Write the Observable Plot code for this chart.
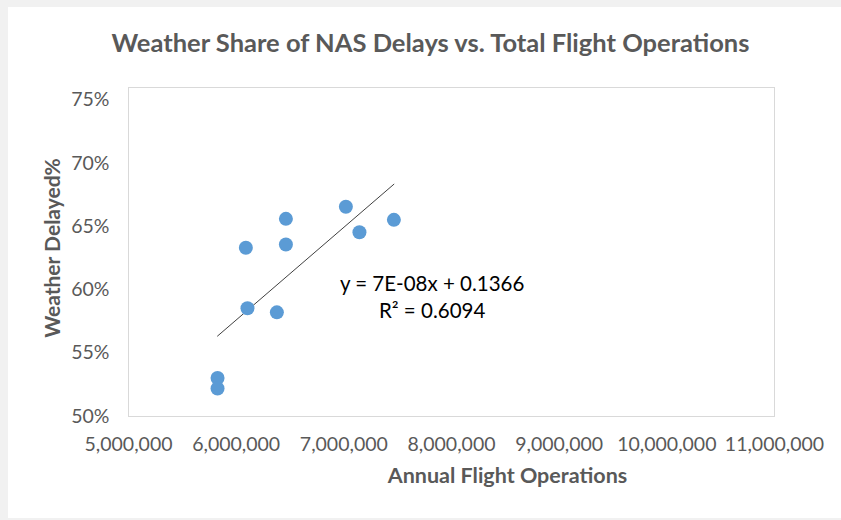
<!DOCTYPE html>
<html>
<head>
<meta charset="utf-8">
<script src="https://cdn.jsdelivr.net/npm/d3@7"></script>
<script src="https://cdn.jsdelivr.net/npm/@observablehq/plot@0.6"></script>
<style>
  html, body { margin: 0; padding: 0; background: #f1f1f1; }
  #wrap { position: relative; width: 841px; height: 520px; overflow: hidden; }
  #card { position: absolute; left: 8px; top: 7px; width: 833px; height: 511px; background: #ffffff; }
  #title { position: absolute; left: 0; top: 27px; width: 861px; text-align: center;
           font-family: Lato, "Open Sans", sans-serif; font-weight: bold; font-size: 25.5px; color: #595959; }
  #chart { position: absolute; left: 0; top: 0; }
</style>
</head>
<body>
<div id="wrap">
  <div id="card"></div>
  <div id="title">Weather Share of NAS Delays vs. Total Flight Operations</div>
  <div id="chart"></div>
</div>
<script>
// Annual flight operations (x) and weather share of NAS delays (y)
const operations = [6090000, 6462000, 6462000, 7019000, 7145000, 7465000, 6105000, 6378000, 5827000, 5827000];
const weatherShare = [0.6333, 0.6562, 0.6359, 0.6658, 0.6456, 0.6554, 0.5856, 0.5823, 0.5304, 0.5221];

const xTicks = [5000000, 6000000, 7000000, 8000000, 9000000, 10000000, 11000000];
const yTicks = [0.50, 0.55, 0.60, 0.65, 0.70, 0.75];

const trendLabel = ["y = 7E-08x + 0.1366\nR² = 0.6094"];
const trendLabelAt = [7820000, 0.5955];

const xTitle = "Annual Flight Operations";
const yTitle = "Weather Delayed%";

const data = operations.map((x, i) => ({x, y: weatherShare[i]}));
const font = "Lato, 'Open Sans', sans-serif";

const chart = Plot.plot({
  width: 841,
  height: 520,
  marginLeft: 128,
  marginRight: 67,
  marginTop: 87,
  marginBottom: 104,
  style: {fontFamily: font, background: "transparent", overflow: "visible"},
  x: {domain: [5000000, 11000000]},
  y: {domain: [0.5, 0.76]},
  marks: [
    Plot.frame({stroke: "#d9d9d9"}),
    Plot.axisX({ticks: xTicks, tickFormat: d3.format(","), tickSize: 0, tickPadding: 21,
                fontSize: 19.5, fill: "#595959", label: null}),
    Plot.axisY({ticks: yTicks, tickFormat: d3.format(".0%"), tickSize: 0, tickPadding: 19,
                fontSize: 19.5, fill: "#595959", label: null}),
    Plot.linearRegressionY(data, {x: "x", y: "y", ci: 0, stroke: "#404040", strokeWidth: 1}),
    Plot.dot(data, {x: "x", y: "y", r: 7, fill: "#5b9bd5", stroke: "none"}),
    Plot.text(trendLabel, {x: () => trendLabelAt[0], y: () => trendLabelAt[1], text: d => d,
                           fontSize: 20.5, fill: "#000000", lineHeight: 1.32, textAnchor: "middle"}),
    Plot.text([xTitle], {frameAnchor: "bottom", textAnchor: "middle", dx: 56, dy: 66, text: d => d,
                         fontSize: 21.5, fontWeight: "bold", fill: "#595959"}),
    Plot.text([yTitle], {frameAnchor: "left", textAnchor: "middle", dx: -75, dy: -4, rotate: -90, text: d => d,
                         fontSize: 21, fontWeight: "bold", fill: "#595959"})
  ]
});
document.getElementById("chart").appendChild(chart);
</script>
</body>
</html>
